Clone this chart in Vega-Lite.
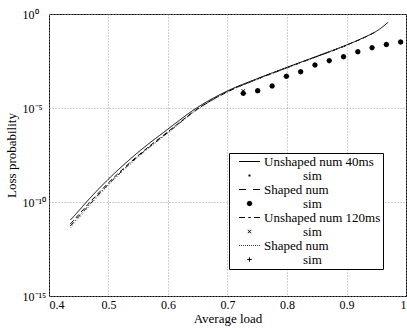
{
  "$schema": "https://vega.github.io/schema/vega-lite/v6.json",
  "width": 357,
  "height": 282,
  "autosize": "none",
  "padding": {"left": 49, "top": 14, "right": 1, "bottom": 33},
  "config": {
    "font": "Liberation Serif",
    "view": {"stroke": "black", "strokeWidth": 1},
    "axis": {
      "domain": false,
      "ticks": false,
      "grid": true,
      "gridColor": "#a0a0a0",
      "gridDash": [1, 2],
      "gridWidth": 1,
      "labelFontSize": 12,
      "labelColor": "black",
      "titleFontSize": 13,
      "titleFontWeight": "normal",
      "titleColor": "black"
    }
  },
  "datasets": {
    "lines": [
      {"load": 0.436, "p": 1.10e-11, "key": "a"},
      {"load": 0.45, "p": 3.39e-11, "key": "a"},
      {"load": 0.463, "p": 1.0e-10, "key": "a"},
      {"load": 0.5, "p": 1.66e-9, "key": "a"},
      {"load": 0.55, "p": 4.47e-8, "key": "a"},
      {"load": 0.6, "p": 7.59e-7, "key": "a"},
      {"load": 0.648, "p": 1.0e-5, "key": "a"},
      {"load": 0.7, "p": 8.13e-5, "key": "a"},
      {"load": 0.75, "p": 3.63e-4, "key": "a"},
      {"load": 0.8, "p": 1.45e-3, "key": "a"},
      {"load": 0.85, "p": 5.62e-3, "key": "a"},
      {"load": 0.9, "p": 2.24e-2, "key": "a"},
      {"load": 0.93, "p": 5.75e-2, "key": "a"},
      {"load": 0.95, "p": 1.2e-1, "key": "a"},
      {"load": 0.96, "p": 2.0e-1, "key": "a"},
      {"load": 0.97, "p": 3.63e-1, "key": "a"},
      {"load": 0.436, "p": 6.76e-12, "key": "c"},
      {"load": 0.45, "p": 2.14e-11, "key": "c"},
      {"load": 0.5, "p": 1.05e-9, "key": "c"},
      {"load": 0.55, "p": 3.02e-8, "key": "c"},
      {"load": 0.6, "p": 5.5e-7, "key": "c"},
      {"load": 0.648, "p": 8.3e-6, "key": "c"},
      {"load": 0.7, "p": 7.41e-5, "key": "c"},
      {"load": 0.75, "p": 3.47e-4, "key": "c"},
      {"load": 0.8, "p": 1.41e-3, "key": "c"},
      {"load": 0.85, "p": 5.5e-3, "key": "c"},
      {"load": 0.9, "p": 2.19e-2, "key": "c"},
      {"load": 0.93, "p": 5.62e-2, "key": "c"},
      {"load": 0.95, "p": 1.17e-1, "key": "c"},
      {"load": 0.436, "p": 5.25e-12, "key": "e"},
      {"load": 0.45, "p": 1.66e-11, "key": "e"},
      {"load": 0.5, "p": 8.9e-10, "key": "e"},
      {"load": 0.55, "p": 2.69e-8, "key": "e"},
      {"load": 0.6, "p": 5.0e-7, "key": "e"},
      {"load": 0.648, "p": 7.94e-6, "key": "e"},
      {"load": 0.7, "p": 7.24e-5, "key": "e"},
      {"load": 0.75, "p": 3.39e-4, "key": "e"},
      {"load": 0.8, "p": 1.38e-3, "key": "e"},
      {"load": 0.85, "p": 5.37e-3, "key": "e"},
      {"load": 0.9, "p": 2.14e-2, "key": "e"},
      {"load": 0.436, "p": 4.17e-12, "key": "g"},
      {"load": 0.45, "p": 1.32e-11, "key": "g"},
      {"load": 0.5, "p": 7.59e-10, "key": "g"},
      {"load": 0.55, "p": 2.4e-8, "key": "g"},
      {"load": 0.6, "p": 4.57e-7, "key": "g"},
      {"load": 0.648, "p": 7.59e-6, "key": "g"},
      {"load": 0.7, "p": 7.08e-5, "key": "g"},
      {"load": 0.75, "p": 3.31e-4, "key": "g"},
      {"load": 0.8, "p": 1.35e-3, "key": "g"},
      {"load": 0.85, "p": 5.25e-3, "key": "g"},
      {"load": 0.9, "p": 2.09e-2, "key": "g"}
    ],
    "sims": [
      {"load": 0.7265, "p": 6.03e-5, "key": "b"},
      {"load": 0.7507, "p": 8.32e-5, "key": "b"},
      {"load": 0.7265, "p": 8.0e-5, "key": "f"},
      {"load": 0.7507, "p": 8.32e-5, "key": "f"},
      {"load": 0.7265, "p": 6.03e-5, "key": "h"},
      {"load": 0.7507, "p": 8.32e-5, "key": "h"},
      {"load": 0.7265, "p": 6.03e-5, "key": "d"},
      {"load": 0.7507, "p": 8.32e-5, "key": "d"},
      {"load": 0.775, "p": 1.48e-4, "key": "d"},
      {"load": 0.799, "p": 4.9e-4, "key": "d"},
      {"load": 0.823, "p": 8.51e-4, "key": "d"},
      {"load": 0.847, "p": 1.95e-3, "key": "d"},
      {"load": 0.871, "p": 3.31e-3, "key": "d"},
      {"load": 0.895, "p": 5.37e-3, "key": "d"},
      {"load": 0.919, "p": 9.77e-3, "key": "d"},
      {"load": 0.943, "p": 1.62e-2, "key": "d"},
      {"load": 0.967, "p": 2.4e-2, "key": "d"},
      {"load": 0.991, "p": 3.24e-2, "key": "d"}
    ]
  },
  "encoding": {
    "x": {
      "field": "load",
      "type": "quantitative",
      "scale": {"domain": [0.4, 1], "nice": false, "zero": false},
      "axis": {
        "title": "Average load",
        "values": [0.4, 0.5, 0.6, 0.7, 0.8, 0.9, 1],
        "format": ".1~f",
        "labelPadding": 3,
        "titlePadding": 2
      }
    },
    "y": {
      "field": "p",
      "type": "quantitative",
      "scale": {"type": "log", "domain": [1e-15, 1], "nice": false},
      "axis": {
        "title": "Loss probability",
        "values": [1e-15, 1e-10, 1e-5, 1],
        "labelExpr": "datum.value >= 0.5 ? '10⁰' : datum.value >= 5e-6 ? '10⁻⁵' : datum.value >= 5e-11 ? '10⁻¹⁰' : '10⁻¹⁵'",
        "labelAlign": "left",
        "labelPadding": 27,
        "titlePadding": 4
      }
    }
  },
  "layer": [
    {
      "data": {"name": "lines"},
      "mark": {"type": "line", "strokeWidth": 1, "interpolate": "monotone"},
      "encoding": {
        "detail": {"field": "key"},
        "strokeDash": {
          "field": "key",
          "type": "nominal",
          "scale": {"domain": ["g", "e", "c", "a"], "range": [[1, 2], [5, 2, 1, 2], [5, 3], [1, 0]]},
          "legend": null
        },
        "color": {
          "field": "key",
          "type": "nominal",
          "scale": {"domain": ["g", "e", "c", "a"], "range": ["#888888", "black", "black", "black"]},
          "legend": null
        }
      }
    },
    {
      "data": {"name": "sims"},
      "mark": {"type": "point", "filled": true, "color": "black", "strokeWidth": 0, "size": 100, "opacity": 1},
      "encoding": {
        "shape": {
          "field": "key",
          "type": "nominal",
          "scale": {
            "domain": ["a", "b", "c", "d", "e", "f", "g", "h"],
            "range": [
              "M-2.1,-0.1H2.1V0.1H-2.1Z",
              "M-0.2,-0.2H0.2V0.2H-0.2Z",
              "M-2.1,-0.1H-0.7V0.1H-2.1ZM0.7,-0.1H2.1V0.1H0.7Z",
              "M0.55,0L0.39,0.39L0,0.55L-0.39,0.39L-0.55,0L-0.39,-0.39L0,-0.55L0.39,-0.39Z",
              "M-2.1,-0.1H-0.9V0.1H-2.1ZM-0.25,-0.1H0.25V0.1H-0.25ZM0.9,-0.1H2.1V0.1H0.9Z",
              "M-0.4,-0.3L-0.3,-0.4L0.4,0.3L0.3,0.4ZM-0.4,0.3L0.3,-0.4L0.4,-0.3L-0.3,0.4Z",
              "M-2.1,-0.08H-1.95V0.08H-2.1ZM-1.7,-0.08H-1.55V0.08H-1.7ZM-1.3,-0.08H-1.15V0.08H-1.3ZM-0.9,-0.08H-0.75V0.08H-0.9ZM-0.5,-0.08H-0.35V0.08H-0.5ZM-0.1,-0.08H0.05V0.08H-0.1ZM0.3,-0.08H0.45V0.08H0.3ZM0.7,-0.08H0.85V0.08H0.7ZM1.1,-0.08H1.25V0.08H1.1ZM1.5,-0.08H1.65V0.08H1.5ZM1.9,-0.08H2.05V0.08H1.9Z",
              "M-0.45,-0.09H0.45V0.09H-0.45ZM-0.09,-0.45H0.09V0.45H-0.09Z"
            ]
          },
          "legend": {
            "title": null,
            "orient": "none",
            "legendX": 180,
            "legendY": 139,
            "direction": "vertical",
            "columns": 1,
            "padding": 2,
            "strokeColor": "black",
            "fillColor": "white",
            "symbolSize": 100,
            "symbolOffset": 12,
            "symbolFillColor": "black",
            "symbolStrokeWidth": 0,
            "symbolOpacity": 1,
            "labelFontSize": 13,
            "labelColor": "black",
            "labelOffset": 8,
            "rowPadding": 0,
            "labelExpr": "datum.label == 'a' ? 'Unshaped num 40ms' : datum.label == 'c' ? 'Shaped num' : datum.label == 'e' ? 'Unshaped num 120ms' : datum.label == 'g' ? 'Shaped num' : '\u200b\u00a0\u00a0\u00a0\u00a0\u00a0\u00a0\u00a0\u00a0\u00a0\u00a0\u00a0\u00a0sim'",
            "encode": {
              "symbols": {
                "fill": {"value": "black"},
                "opacity": {"value": 1}
              }
            }
          }
        }
      }
    }
  ]
}
